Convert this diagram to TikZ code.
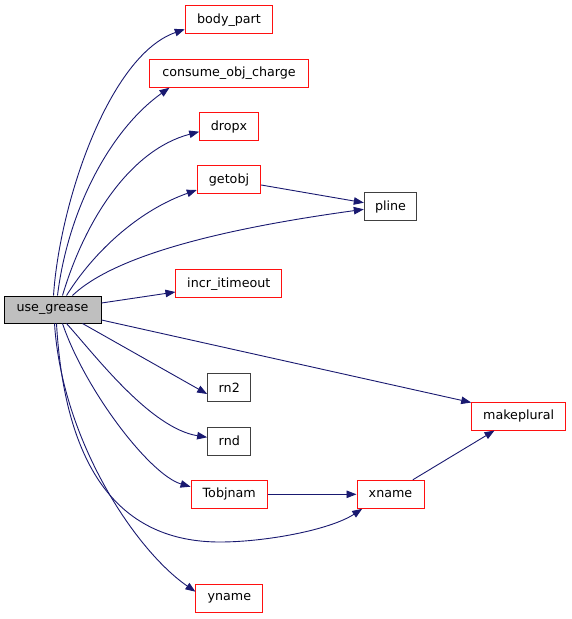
\documentclass[tikz,border=0pt]{standalone}
\usepackage{fontspec}
\setmainfont{DejaVu Sans}
\usetikzlibrary{arrows.meta}
\definecolor{edgeblue}{HTML}{191970}
\definecolor{boxred}{HTML}{FF1010}
\definecolor{boxgray}{HTML}{404040}
\definecolor{fillgray}{HTML}{BFBFBF}
\tikzset{
  fn/.style={draw, line width=1pt, inner sep=0pt, minimum height=28pt, font=\fontsize{12.7}{15}\selectfont, fill=white},
  redbox/.style={fn, draw=boxred},
  blackbox/.style={fn, draw=boxgray},
  rootbox/.style={fn, draw=black, fill=fillgray, minimum height=27pt},
  edge/.style={draw=edgeblue, line width=0.9pt, -{Triangle[length=10pt,width=7.5pt]}},
}
\begin{document}
\begin{tikzpicture}[x=1pt,y=-1pt]
\useasboundingbox (0,0) rectangle (571,619);
\node[rootbox, minimum width=97pt] (ug) at (52.5,309.5) {use\_grease};
\node[redbox, minimum width=87.5pt] (bp) at (229,19.7) {body\_part};
\node[redbox, minimum width=159.4pt] (coc) at (229,73.2) {consume\_obj\_charge};
\node[redbox, minimum width=58.6pt] (dx) at (229,126.5) {dropx};
\node[redbox, minimum width=63.4pt] (go) at (229,179.5) {getobj};
\node[blackbox, minimum width=52.4pt] (pl) at (390.5,206.7) {pline};
\node[redbox, minimum width=105.7pt] (ii) at (228.8,283.7) {incr\_itimeout};
\node[blackbox, minimum width=43.3pt] (rn2) at (229.3,387.7) {rn2};
\node[blackbox, minimum width=43.3pt] (rnd) at (229.3,441.2) {rnd};
\node[redbox, minimum width=76.3pt] (tn) at (229.2,494.3) {Tobjnam};
\node[redbox, minimum width=67pt] (xn) at (390.5,494.3) {xname};
\node[redbox, minimum width=94pt] (mp) at (518.7,416) {makeplural};
\node[redbox, minimum width=66.7pt] (yn) at (229.3,598.3) {yname};

% upward edges
\draw[edge] ([xshift=50pt]ug.north west) .. controls (60,200) and (110,55) .. ([yshift=-9.6pt]bp.west);
\draw[edge] ([xshift=54pt]ug.north west) .. controls (68,210) and (110,130) .. ([xshift=20.7pt]coc.south west);
\draw[edge] ([xshift=59pt]ug.north west) .. controls (85,220) and (130,150) .. ([yshift=-5.2pt]dx.west);
\draw[edge] ([xshift=63pt]ug.north west) .. controls (95,250) and (140,210) .. ([yshift=-10.5pt]go.west);
\draw[edge] ([xshift=69pt]ug.north west) .. controls (120,250) and (250,225) .. ([yshift=-2.6pt]pl.west);
\draw[edge] ([yshift=6.5pt]ug.east) -- ([yshift=-8.3pt]ii.west);
% downward edges
\draw[edge] ([yshift=-10.5pt]ug.east) -- ([xshift=0pt,yshift=-1pt]mp.north west);
\draw[edge] ([xshift=79pt]ug.south west) -- ([yshift=-6.3pt]rn2.west);
\draw[edge] ([xshift=63pt]ug.south west) .. controls (95,355) and (150,428) .. ([yshift=3.9pt]rnd.west);
\draw[edge] ([xshift=59pt]ug.south west) .. controls (85,390) and (150,475) .. ([yshift=7.6pt]tn.west);
\draw[edge] ([xshift=53pt]ug.south west) .. controls (65,470) and (120,542) .. (220,542)
  .. controls (265,542) and (330,530) .. ([xshift=5.7pt]xn.south west);
\draw[edge] ([xshift=51pt]ug.south west) .. controls (62,440) and (135,550) .. ([yshift=6.6pt]yn.west);
% other edges
\draw[edge] ([yshift=-5.5pt]go.east) -- ([yshift=4pt]pl.west);
\draw[edge] (tn.east) -- (xn.west);
\draw[edge] ([xshift=56.3pt]xn.north west) -- ([xshift=23.3pt]mp.south west);
\end{tikzpicture}
\end{document}
